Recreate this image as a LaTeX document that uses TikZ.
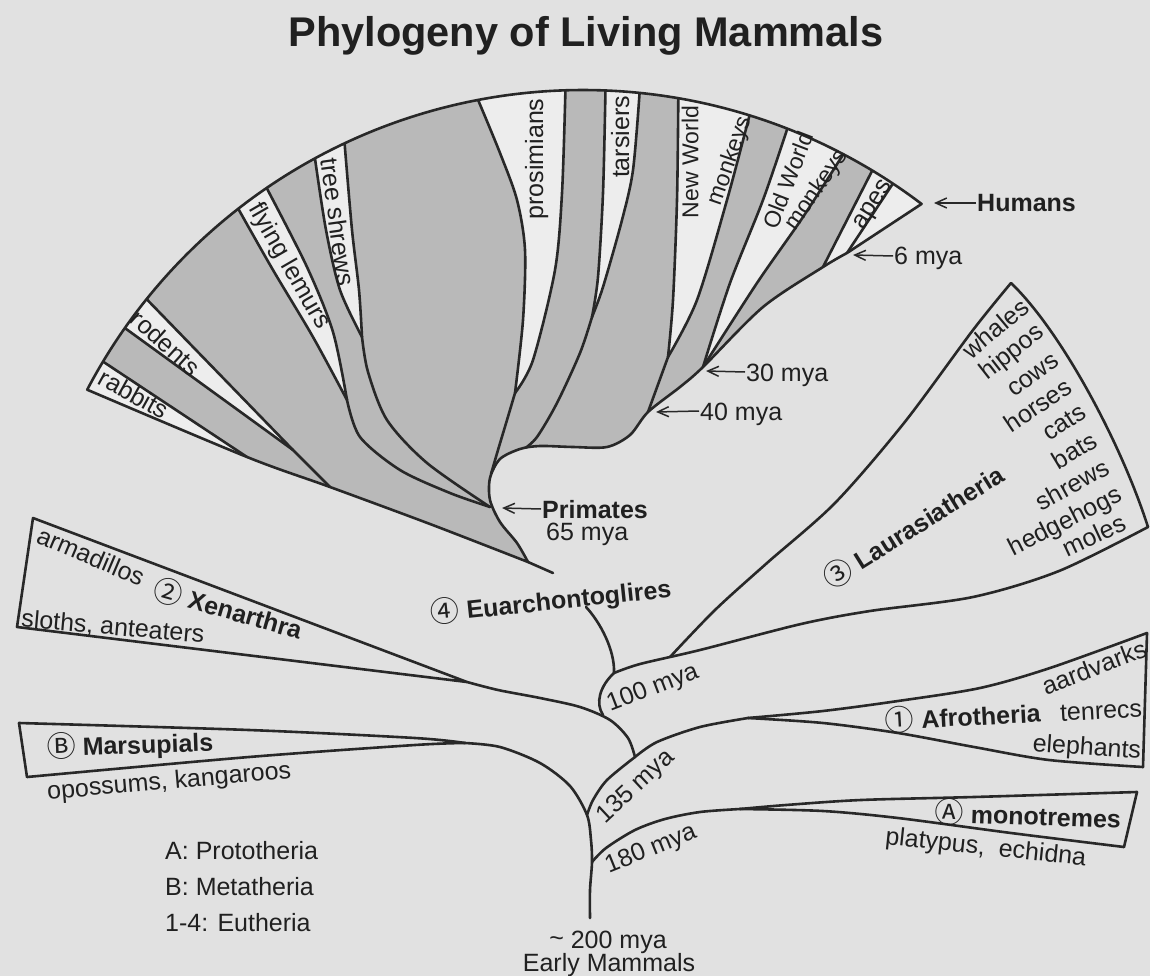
\documentclass[tikz,border=0pt]{standalone}
\usepackage{fontspec}
\setmainfont{Liberation Sans}
\newfontfamily\cjk{Noto Sans CJK JP}
\usetikzlibrary{calc,arrows.meta}
\definecolor{bgc}{RGB}{225,225,225}
\definecolor{stripc}{RGB}{237,237,237}
\definecolor{grayc}{RGB}{185,185,185}
\definecolor{linec}{RGB}{40,40,40}
\definecolor{textc}{RGB}{32,32,32}
\newcommand{\cn}[1]{{\cjk\mdseries\fontsize{29}{29}\selectfont\raisebox{-1pt}{#1}}}
\newcommand{\fanpath}{(Lc) arc[start angle=-152.3,end angle=-52.8,radius=560] -- (J6) -- plot[smooth] coordinates {(J6) (823,267) (763,307) (J30) (680,387) (J40) (630,435) (607,447) (573,447) (540,446) (520,449) (500,459) (490,478) (490,500) (500,522) (517,543) (Bt)} -- plot[smooth] coordinates {(Bt) (430,524) (Jg) (Jr) (Lc)} -- cycle}
\begin{document}
\begin{tikzpicture}[x=1pt,y=-1pt,
  br/.style={draw=linec,line width=2.6pt,line join=round,line cap=round},
  arr/.style={draw=linec,line width=1.5pt,-{Straight Barb[length=11pt,width=10pt]}},
  lab/.style={font=\fontsize{25}{30}\selectfont,text=textc,inner sep=0pt,text height=18pt,text depth=0pt},
  blab/.style={lab,font=\fontsize{25}{30}\selectfont\bfseries},
  slab/.style={lab,font=\fontsize{23}{28}\selectfont,text height=16.5pt},
]
\useasboundingbox (0,0) rectangle (1150,976);
\fill[bgc] (0,0) rectangle (1150,976);
% ---------- key coordinates ----------
\coordinate (O) at (583,650);
\coordinate (Lc) at ($(O)+(-152.3:560)$);
\coordinate (Tip) at ($(O)+(-52.8:560)$);
\coordinate (RaB) at ($(O)+(-149:560)$);
\coordinate (RoA) at ($(O)+(-144.9:560)$);
\coordinate (RoB) at ($(O)+(-141.2:560)$);
\coordinate (FlA) at ($(O)+(-128:560)$);
\coordinate (FlB) at ($(O)+(-124.4:560)$);
\coordinate (TsA) at ($(O)+(-118.6:560)$);
\coordinate (TsB) at ($(O)+(-115.2:560)$);
\coordinate (PrA) at ($(O)+(-100.8:560)$);
\coordinate (PrB) at ($(O)+(-91.8:560)$);
\coordinate (TaA) at ($(O)+(-87.7:560)$);
\coordinate (TaB) at ($(O)+(-84.2:560)$);
\coordinate (NwA) at ($(O)+(-80.2:560)$);
\coordinate (NwB) at ($(O)+(-72.7:560)$);
\coordinate (OwA) at ($(O)+(-68.6:560)$);
\coordinate (OwB) at ($(O)+(-62.3:560)$);
\coordinate (ApA) at ($(O)+(-58.9:560)$);
\coordinate (ApB) at ($(O)+(-56.4:560)$);
\coordinate (J6) at (847,253);
\coordinate (Jap) at (823,267);
\coordinate (J30) at (703,367);
\coordinate (J40) at (648,412);
\coordinate (Jnw) at (668,357);
\coordinate (Jta) at (592,317);
\coordinate (Jpr) at (515,393);
\coordinate (Jts) at (362,337);
\coordinate (Jfl) at (347,400);
\coordinate (Jro) at (293,450);
\coordinate (Jr) at (247,457);
\coordinate (Jg) at (330,487);
\coordinate (Jp) at (490,507);
\coordinate (Bt) at (528,562);
\coordinate (S1) at (553,573);
\coordinate (S2) at (586,607);
\coordinate (J100) at (614,673);
\coordinate (Lm) at (670,657);
\coordinate (LTip) at (1011,283);
\coordinate (LRc) at (1148,527);
\coordinate (Xc) at (467,682);
\coordinate (XUc) at (33,518);
\coordinate (XLc) at (17,627);
\coordinate (Jx) at (603,715);
\coordinate (J135) at (635,757);
\coordinate (Ac) at (748,718);
\coordinate (AUc) at (1147,633);
\coordinate (ALc) at (1143,767);
\coordinate (Jt) at (587,815);
\coordinate (Mc) at (465,743);
\coordinate (MUc) at (19,723);
\coordinate (MLc) at (27,777);
\coordinate (J180) at (592,862);
\coordinate (R0) at (590,918);
\coordinate (Moc) at (740,809);
\coordinate (MoUc) at (1137,792);
\coordinate (MoLc) at (1124,847);
% ---------- primate / glires fan ----------
\fill[grayc] \fanpath;
\begin{scope}
\clip \fanpath;
% white strips
\fill[stripc] (Jr) -- (60,425) -- ($(O)!1.06!(RaB)$) -- (RaB) -- cycle;
\fill[stripc] (Jro) -- (RoA) -- ($(O)!1.06!(RoA)$) -- ($(O)!1.06!(RoB)$) -- (RoB) -- cycle;
\fill[stripc] plot[smooth] coordinates {(Jfl) (313,337) (273,270) (FlA)} -- ($(O)!1.06!(FlA)$) -- ($(O)!1.06!(FlB)$) -- plot[smooth] coordinates {(FlB) (307,267) (333,332) (Jfl)} -- cycle;
\fill[stripc] plot[smooth] coordinates {(Jts) (340,290) (326,230) (TsA)} -- ($(O)!1.06!(TsA)$) -- ($(O)!1.06!(TsB)$) -- plot[smooth] coordinates {(TsB) (352,230) (359,290) (Jts)} -- cycle;
\fill[stripc] plot[smooth] coordinates {(Jpr) (523,320) (525,250) (517,200) (500,153) (PrA)} -- ($(O)!1.06!(PrA)$) -- ($(O)!1.06!(PrB)$) -- plot[smooth] coordinates {(PrB) (562,193) (555,270) (533,360) (Jpr)} -- cycle;
\fill[stripc] plot[smooth] coordinates {(Jta) (598,277) (603,193) (TaA)} -- ($(O)!1.06!(TaA)$) -- ($(O)!1.06!(TaB)$) -- plot[smooth] coordinates {(TaB) (633,170) (622,220) (603,287) (Jta)} -- cycle;
\fill[stripc] plot[smooth] coordinates {(Jnw) (673,300) (677,200) (NwA)} -- ($(O)!1.06!(NwA)$) -- ($(O)!1.06!(NwB)$) -- plot[smooth] coordinates {(NwB) (727,200) (697,300) (Jnw)} -- cycle;
\fill[stripc] plot[smooth] coordinates {(J30) (730,283) (763,200) (OwA)} -- ($(O)!1.06!(OwA)$) -- ($(O)!1.06!(OwB)$) -- plot[smooth] coordinates {(OwB) (803,217) (757,283) (J30)} -- cycle;
\fill[stripc] (Jap) -- (ApA) -- ($(O)!1.06!(ApA)$) -- ($(O)!1.06!(ApB)$) -- (ApB) -- (J6) -- (840,280) -- cycle;
\fill[stripc] (J6) -- (ApB) -- ($(O)!1.06!(ApB)$) -- (985,200) -- (905,275) -- cycle;
% lineage lines
\draw[br] ($(O)!1.05!(RaB)$) -- (RaB) -- (Jr);
\draw[br] ($(O)!1.05!(RoA)$) -- (RoA) -- (Jro);
\draw[br] ($(O)!1.05!(RoB)$) -- (RoB) -- (Jro) -- (Jg);
\draw[br] ($(O)!1.05!(FlA)$) -- plot[smooth] coordinates {(FlA) (273,270) (313,337) (Jfl)};
\draw[br] ($(O)!1.05!(FlB)$) -- plot[smooth] coordinates {(FlB) (307,267) (333,332) (Jfl)};
\draw[br] plot[smooth] coordinates {(Jfl) (360,437) (400,470) (450,493) (Jp)};
\draw[br] ($(O)!1.05!(TsA)$) -- plot[smooth] coordinates {(TsA) (326,230) (340,290) (Jts)};
\draw[br] ($(O)!1.05!(TsB)$) -- plot[smooth] coordinates {(TsB) (352,230) (359,290) (Jts)};
\draw[br] plot[smooth] coordinates {(Jts) (368,372) (387,420) (427,463) (Jp)};
\draw[br] ($(O)!1.05!(PrA)$) -- plot[smooth] coordinates {(PrA) (500,153) (517,200) (525,250) (523,320) (Jpr)};
\draw[br] ($(O)!1.05!(PrB)$) -- plot[smooth] coordinates {(PrB) (562,193) (555,270) (533,360) (Jpr)};
\draw[br] plot[smooth] coordinates {(Jpr) (507,420) (498,450) (491,474)};
\draw[br] ($(O)!1.05!(TaA)$) -- plot[smooth] coordinates {(TaA) (603,193) (598,277) (Jta)};
\draw[br] ($(O)!1.05!(TaB)$) -- plot[smooth] coordinates {(TaB) (633,170) (622,220) (603,287) (Jta)};
\draw[br] plot[smooth] coordinates {(Jta) (580,353) (557,403) (537,437) (524,449)};
\draw[br] ($(O)!1.05!(NwA)$) -- plot[smooth] coordinates {(NwA) (677,200) (673,300) (Jnw)};
\draw[br] ($(O)!1.05!(NwB)$) -- plot[smooth] coordinates {(NwB) (727,200) (697,300) (Jnw)};
\draw[br] (Jnw) -- (J40);
\draw[br] ($(O)!1.05!(OwA)$) -- plot[smooth] coordinates {(OwA) (763,200) (730,283) (J30)};
\draw[br] ($(O)!1.05!(OwB)$) -- plot[smooth] coordinates {(OwB) (803,217) (757,283) (J30)};
\draw[br] ($(O)!1.05!(ApA)$) -- (ApA) -- (Jap);
\draw[br] ($(O)!1.05!(ApB)$) -- (ApB) -- (J6);
\end{scope}
\draw[br] \fanpath;
% ---------- backbone ----------
\draw[br] (Bt) -- (S1);
\draw[br] (S2) .. controls (600,622) and (615,650) .. (J100);
\draw[br] plot[smooth] coordinates {(J100) (640,664) (700,650) (801,624) (870,611) (973,597) (1059,571) (LRc)};
\draw[br] plot[smooth] coordinates {(LTip) (973,330) (904,423) (835,503) (767,563) (715,610) (Lm)};
\draw[br] (LTip) .. controls (1060,330) and (1120,440) .. (LRc);
\draw[br] (J100) .. controls (600,686) and (595,703) .. (Jx);
\draw[br] (XUc) -- (Xc) -- (XLc) -- cycle;
\draw[br] plot[smooth] coordinates {(Xc) (498,690) (540,698) (580,707) (610,720) (628,738) (J135)};
\draw[br] plot[smooth] coordinates {(J135) (657,742) (700,727) (Ac)};
\draw[br] plot[smooth] coordinates {(Ac) (823,711) (898,701) (980,688) (1050,668) (AUc)};
\draw[br] plot[smooth] coordinates {(Ac) (823,723) (898,733) (974,747) (1049,760) (ALc)};
\draw[br] (AUc) -- (ALc);
\draw[br] plot[smooth] coordinates {(J135) (607,780) (593,800) (Jt)};
\draw[br] plot[smooth] coordinates {(MUc) (249,730) (415,738) (Mc)};
\draw[br] plot[smooth] coordinates {(MLc) (249,757) (415,745) (Mc)};
\draw[br] (MUc) -- (MLc);
\draw[br] plot[smooth] coordinates {(Mc) (500,747) (540,763) (570,786) (Jt) (591,840) (J180) (590,890) (R0)};
\draw[br] plot[smooth] coordinates {(J180) (606,848) (635,830) (665,819) (700,812) (Moc)};
\draw[br] plot[smooth] coordinates {(Moc) (786,805) (861,800) (974,797) (MoUc)};
\draw[br] plot[smooth] coordinates {(Moc) (823,811) (898,818) (1011,833) (MoLc)};
\draw[br] (MoUc) -- (MoLc);
% ---------- title ----------
\node[inner sep=0pt,text=textc,font=\fontsize{41.5}{48}\selectfont\bfseries,text height=29.7pt,text depth=0pt] (title) at (586,32) {Phylogeny of Living Mammals};
% ---------- fan labels ----------
\node[lab,rotate=-29] (rabbits) at (134,394) {rabbits};
\node[lab,rotate=-42] (rodents) at (166,343) {rodents};
\node[lab,rotate=-60] (flying) at (291,265) {flying lemurs};
\node[lab,rotate=-82] (treesh) at (338,222) {tree shrews};
\node[lab,rotate=90] (prosim) at (534,159) {prosimians};
\node[lab,rotate=90] (tars) at (620,137) {tarsiers};
\node[slab,rotate=90] (nwA) at (690,162) {New World};
\node[slab,rotate=71] (nwB) at (728,160) {monkeys};
\node[slab,rotate=69] (owA) at (788,180) {Old World};
\node[slab,rotate=55] (owB) at (815,189) {monkeys};
\node[lab,rotate=58] (apes) at (870,203) {apes};
% ---------- arrows & times ----------
\node[blab,anchor=west] (hum) at (977,203) {Humans};
\draw[arr] ([xshift=-1pt]hum.west) -- (934,203);
\node[lab,anchor=west] (m6) at (894,256) {6 mya};
\draw[arr] ([xshift=-1pt]m6.west) -- (853,255);
\node[lab,anchor=west] (m30) at (746,372) {30 mya};
\draw[arr] ([xshift=-1pt]m30.west) -- (706,371);
\node[lab,anchor=west] (m40) at (700,411) {40 mya};
\draw[arr] ([xshift=-1pt]m40.west) -- (656,412);
\node[blab,anchor=west] (prim) at (542,509) {Primates};
\draw[arr] ([xshift=-1pt]prim.west) -- (502,508);
\node[lab,anchor=west] (m65) at (546,531) {65 mya};
% ---------- clade labels ----------
\node[blab,rotate=6] (euar) at (551,601) {\cn{④} Euarchontoglires};
\node[blab,rotate=32] (laur) at (914,527) {\cn{③} Laurasiatheria};
\node[lab,rotate=40,anchor=east] (w1) at (1025,303) {whales};
\node[lab,rotate=38,anchor=east] (w2) at (1040,328) {hippos};
\node[lab,rotate=36,anchor=east] (w3) at (1055,357) {cows};
\node[lab,rotate=34,anchor=east] (w4) at (1069,384) {horses};
\node[lab,rotate=33,anchor=east] (w5) at (1083,409) {cats};
\node[lab,rotate=31,anchor=east] (w6) at (1095,438) {bats};
\node[lab,rotate=29,anchor=east] (w7) at (1107,465) {shrews};
\node[lab,rotate=27,anchor=east] (w8) at (1120,492) {hedgehogs};
\node[lab,rotate=25,anchor=east] (w9) at (1124,521) {moles};
\node[lab,rotate=21] (m100) at (652,686) {100 mya};
\node[lab,rotate=43] (m135) at (634,785) {135 mya};
\node[lab,rotate=22] (m180) at (650,847) {180 mya};
\node[blab,rotate=3] (afro) at (963,717) {\cn{①} Afrotheria};
\node[lab,rotate=3] (tenr) at (1101,710) {tenrecs};
\node[lab,rotate=21] (aard) at (1094,667) {aardvarks};
\node[lab,rotate=-4] (elep) at (1087,746) {elephants};
\node[blab,rotate=-2] (mono) at (1028,816) {\cn{Ⓐ} monotremes};
\node[lab,rotate=-6] (platy) at (986,846) {platypus,\ \ echidna};
\node[blab,rotate=-16] (xen) at (228,610) {\cn{②} Xenarthra};
\node[lab,rotate=-23] (arma) at (91,556) {armadillos};
\node[lab,rotate=-5] (sloth) at (113,626) {sloths, anteaters};
\node[blab,rotate=2] (mars) at (130,745) {\cn{Ⓑ} Marsupials};
\node[lab,rotate=5] (opos) at (169,780) {opossums, kangaroos};
% ---------- legend & root ----------
\node[lab,anchor=west] (legA) at (165,850) {A: Prototheria};
\node[lab,anchor=west] (legB) at (165,886) {B: Metatheria};
\node[lab,anchor=west] (legC) at (165,922) {1-4: Eutheria};
\node[lab] (m200) at (608,939) {\raisebox{2pt}{\textasciitilde} 200 mya};
\node[lab] (early) at (609,962) {Early Mammals};
\end{tikzpicture}
\end{document}
